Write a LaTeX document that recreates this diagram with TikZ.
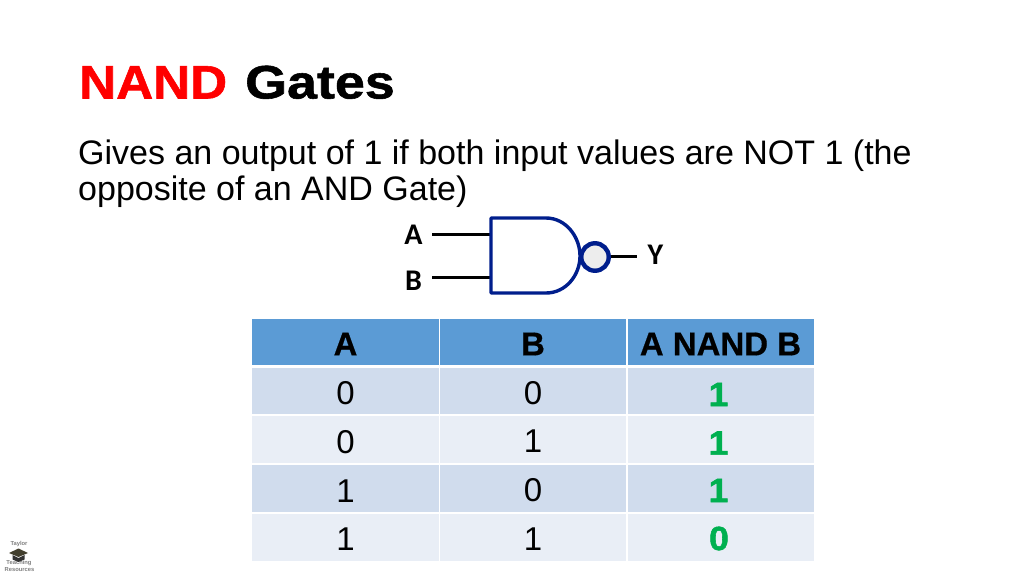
\documentclass[tikz,border=0pt]{standalone}
\usepackage{fontspec}
\setmainfont{Liberation Sans}
\newfontfamily\carl{Carlito}
\newfontfamily\titlef[BoldFeatures={FakeStretch=1.09,FakeBold=1.2}]{Liberation Sans}
\newfontfamily\titleg[BoldFeatures={FakeStretch=1.145,FakeBold=1.2}]{Liberation Sans}
\newfontfamily\resf[BoldFeatures={FakeStretch=1.06,FakeBold=1.6}]{Liberation Sans}
\newfontfamily\hdf[BoldFeatures={FakeBold=0.5}]{Liberation Sans}
\definecolor{hdr}{HTML}{5B9BD5}
\definecolor{rowa}{HTML}{D0DCED}
\definecolor{rowb}{HTML}{E9EEF6}
\definecolor{gatec}{HTML}{001E8C}
\definecolor{grn}{HTML}{00B050}
\definecolor{nandred}{HTML}{FF0000}
\tikzset{
  cell/.style={inner sep=0pt, anchor=center, font=\fontsize{33}{33}\selectfont, text=black},
  hd/.style={font=\hdf\bfseries\fontsize{33}{33}\selectfont},
  res/.style={font=\resf\bfseries\fontsize{33.5}{33.5}\selectfont, text=grn},
  pin/.style={font=\carl\bfseries\fontsize{30}{30}\selectfont},
  wire/.style={line width=3pt, black},
  gatel/.style={line width=3.4pt, gatec, line join=round},
  body/.style={font=\fontsize{34}{34}\selectfont, anchor=base west, inner sep=0pt},
  logot/.style={font=\bfseries\fontsize{5.8}{5.8}\selectfont, text=black!50, inner sep=0pt}
}
\begin{document}
\begin{tikzpicture}[x=1pt,y=-1pt]
\useasboundingbox (0,0) rectangle (1024,576);
\fill[white] (0,0) rectangle (1024,576);
% table background
\fill[hdr] (252,319) rectangle (814,366);
\fill[rowa] (252,366) rectangle (814,415);
\fill[rowb] (252,415) rectangle (814,464);
\fill[rowa] (252,464) rectangle (814,513);
\fill[rowb] (252,513) rectangle (814,561);
\draw[white,line width=3pt] (252,366.5) -- (814,366.5);
\foreach \yy in {415,464,513} \draw[white,line width=1.2pt] (252,\yy) -- (814,\yy);
\foreach \xx in {439.5,627} \draw[white,line width=1.2pt] (\xx,319) -- (\xx,561);
% title
\node[anchor=base west,inner sep=0pt,font=\titlef\bfseries\fontsize{47}{47}\selectfont,text=nandred] (title) at (79,98.5) {NAND};
\node[anchor=base west,inner sep=0pt,font=\titleg\bfseries\fontsize{47}{47}\selectfont] (title2) at (245,98.5) {Gates};
\node[body] (l1) at (78,164) {Gives an output of 1 if both input values are NOT 1 (the};
\node[body] (l2) at (78,200) {opposite of an AND Gate)};
% table text
\node[hd] (h1) at (345.5,344) {A};
\node[hd] (h2) at (533,344) {B};
\node[hd] (h3) at (720.5,344) {A NAND B};
\node[cell] (a1) at (345.5,393) {0};
\node[cell] (b1) at (533,393) {0};
\node[res] (r1) at (718.5,394.5) {1};
\node[cell] (a2) at (345.5,442) {0};
\node[cell] (b2) at (533,441) {1};
\node[res] (r2) at (718.5,443) {1};
\node[cell] (a3) at (345.5,491) {1};
\node[cell] (b3) at (533,490) {0};
\node[res] (r3) at (718.5,490.5) {1};
\node[cell] (a4) at (345.5,539) {1};
\node[cell] (b4) at (533,539) {1};
\node[res] (r4) at (719,538.5) {0};
% gate
\coordinate (ga) at (491,234);
\coordinate (gb) at (491,277);
\coordinate (ya) at (637,256);
\node[pin] (pa) at (413.5,234.5) {A};
\node[pin] (pb) at (413.5,281) {B};
\node[pin] (py) at (655.5,255) {Y};
\coordinate (paw) at (432,234);
\coordinate (pbw) at (432,277);
\draw[wire] (paw) -- (ga);
\draw[wire] (pbw) -- (gb);
\draw[gatel] (491,218) -- (546,218) .. controls (566,218) and (580,237) .. (580,256)
   .. controls (580,275) and (566,293) .. (546,293) -- (491,293) -- cycle;
\node[circle,draw=gatec,line width=4.4pt,fill=black!7,minimum size=27.5pt,inner sep=0pt] (bub) at (595,257) {};
\draw[wire] (bub.east) ++(0,-1) -- (ya);
% logo
\node[logot] (lg1) at (19,543.5) {Taylor};
\node[logot] (lg2) at (19,563.5) {Teaching};
\node[logot] (lg3) at (19.5,569.5) {Resources};
\fill[black!70!olive] (9,553) -- (18.5,548.5) -- (28,553) -- (18.5,557) -- cycle;
\fill[black!80] (12.5,555) -- (18.5,558) -- (24.5,555) -- (24.5,559.5) -- (18.5,562) -- (12.5,559.5) -- cycle;
\end{tikzpicture}
\end{document}
